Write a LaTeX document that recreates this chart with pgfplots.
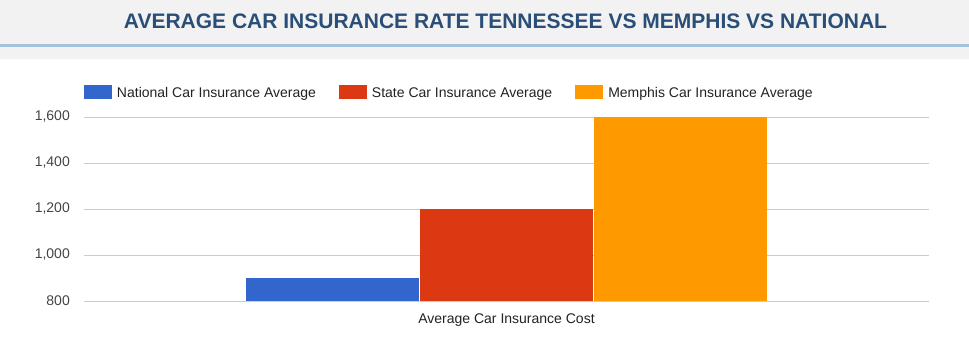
\documentclass[border=0pt]{standalone}
\usepackage{pgfplots}
\pgfplotsset{compat=1.18}
\usepackage{fontspec}
\setmainfont{Liberation Sans}
\definecolor{natblue}{HTML}{3366CC}
\definecolor{statered}{HTML}{DC3912}
\definecolor{memorange}{HTML}{FF9900}
\definecolor{titleblue}{HTML}{2A4E77}
\definecolor{headline}{HTML}{A4C2DD}
\definecolor{headbg}{HTML}{F2F2F2}
\definecolor{gridgray}{HTML}{CCCCCC}
\definecolor{ticktext}{HTML}{444444}
\definecolor{legtext}{HTML}{222222}
\pgfplotsset{myleg/.style={legend image code/.code={\fill[##1] (0pt,-5.5pt) rectangle (28pt,8.5pt); \path (33pt,0pt);}}}
\begin{document}
\begin{tikzpicture}
\path[use as bounding box] (0pt,0pt) rectangle (969pt,351pt);
\fill[headbg] (0pt,292.3pt) rectangle (969pt,351pt);
\draw[headline, line width=3pt] (0pt,305.7pt) -- (969pt,305.7pt);
\node[anchor=base, text=titleblue, font=\fontsize{21pt}{25pt}\selectfont\bfseries, inner sep=0pt] at (505.5pt,322pt) {AVERAGE CAR INSURANCE RATE TENNESSEE VS MEMPHIS VS NATIONAL};
\begin{axis}[
  at={(84pt,50pt)}, anchor=south west, scale only axis,
  width=845pt, height=184pt,
  xmin=-1, xmax=1, ymin=800, ymax=1600,
  ytick={800,1000,1200,1400,1600},
  xtick={0}, xticklabels={Average Car Insurance Cost},
  ymajorgrids, grid style={gridgray, line width=1pt},
  axis line style={draw=none}, major tick length=0pt,
  ybar=1pt, bar width=173pt,
  /pgf/number format/1000 sep={,},
  /pgf/number format/assume math mode=true,
  yticklabel style={anchor=east, inner sep=0pt, xshift=-14pt, text=ticktext, font=\fontsize{14pt}{16pt}\selectfont},
  xticklabel style={anchor=base, inner sep=0pt, yshift=-22pt, text=legtext, font=\fontsize{14pt}{16pt}\selectfont},
  legend columns=3,
  legend style={at={(0,1.136)}, anchor=west, draw=none, fill=none, inner sep=0pt, outer sep=0pt,
    font=\fontsize{14pt}{16pt}\selectfont, text=legtext,
    nodes={inner sep=0pt},
    /tikz/every even column/.append style={column sep=23pt}},
]
\addplot[fill=natblue, draw=none, myleg] coordinates {(0,900)};
\addplot[fill=statered, draw=none, myleg] coordinates {(0,1200)};
\addplot[fill=memorange, draw=none, myleg] coordinates {(0,1600)};
\legend{National Car Insurance Average, State Car Insurance Average, Memphis Car Insurance Average}
\end{axis}
\end{tikzpicture}
\end{document}
